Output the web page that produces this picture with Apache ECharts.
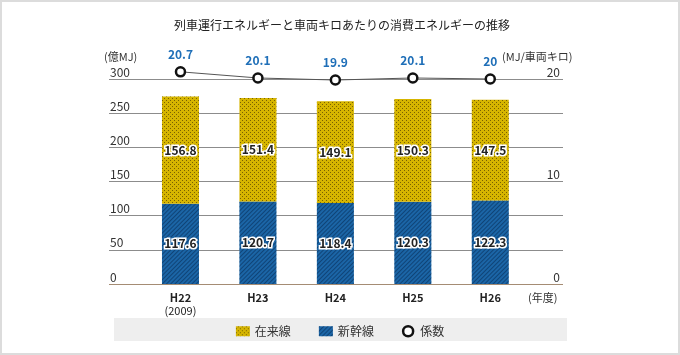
<!DOCTYPE html>
<html><head><meta charset="utf-8">
<script src="https://cdn.jsdelivr.net/npm/echarts@6/dist/echarts.min.js"></script>
<style>html,body{margin:0;padding:0;background:#fff}#c{width:680px;height:355px}</style>
</head><body><div id="c"></div>
<script>
const categories = ['H22', 'H23', 'H24', 'H25', 'H26'];
const categorySub = ['(2009)', '', '', '', ''];
const shinkansen = [117.6, 120.7, 118.4, 120.3, 122.3];
const zairaisen = [156.8, 151.4, 149.1, 150.3, 147.5];
const coefficient = [20.7, 20.1, 19.9, 20.1, 20];
const leftTicks = { min: 0, max: 300, interval: 50 };
const rightTicks = { min: 0, max: 20, interval: 10 };

const FONT = '"Noto Sans CJK JP","Noto Sans",sans-serif';
const chart = echarts.init(document.getElementById('c'));
const dotDecal = {
  symbol: 'rect', symbolSize: 1, color: 'rgba(90,70,0,0.75)',
  dashArrayX: [[1, 3], [0, 2, 1, 1]], dashArrayY: [1, 1]
};
const hatchDecal = {
  symbol: 'rect', symbolSize: 1, color: 'rgba(5,40,80,0.55)',
  dashArrayX: [[1, 0]], dashArrayY: [1, 2], rotation: -Math.PI / 4
};
const barLabel = {
  show: true, position: 'inside', fontFamily: FONT, fontSize: 12, fontWeight: 'bold',
  color: '#222', textBorderColor: '#fff', textBorderWidth: 3,
  formatter: p => p.value.toFixed(1)
};
chart.setOption({
  animation: false,
  textStyle: { fontFamily: FONT },
  title: {
    text: '列車運行エネルギーと車両キロあたりの消費エネルギーの推移',
    left: 337, top: 14, textAlign: 'center',
    textStyle: { fontFamily: FONT, fontSize: 12, fontWeight: 'normal', color: '#222' }
  },
  graphic: [
    { type: 'rect', shape: { x: 1, y: 1, width: 678, height: 353 }, style: { fill: 'none', stroke: '#dcdcdc', lineWidth: 2 }, z: 0 },
    { type: 'rect', shape: { x: 114, y: 318, width: 453, height: 23 }, style: { fill: '#eeeeee' }, z: 0 },
    { type: 'text', left: 104, top: 51, style: { text: '(億MJ)', fontFamily: FONT, fontSize: 11, fill: '#333' } },
    { type: 'text', left: 502, top: 51, style: { text: '(MJ/車両キロ)', fontFamily: FONT, fontSize: 11, fill: '#333' } },
    { type: 'text', left: 528, top: 292, style: { text: '(年度)', fontFamily: FONT, fontSize: 11, fill: '#333' } }
  ],
  legend: {
    top: 320, left: 'center', itemGap: 28, itemWidth: 14, itemHeight: 10,
    textStyle: { fontFamily: FONT, fontSize: 12, color: '#333' },
    data: [
      { name: '在来線', icon: 'rect' },
      { name: '新幹線', icon: 'rect' },
      { name: '係数', icon: 'circle', itemStyle: { color: '#fff', borderColor: '#111', borderWidth: 2.5 } }
    ]
  },
  grid: [
    { left: 109, right: 117, top: 79, bottom: 71 },
    { left: 141.75, right: 151, top: 79, bottom: 71 }
  ],
  xAxis: [
    { type: 'value', gridIndex: 0, show: false, min: 0, max: 1 },
    {
      type: 'category', gridIndex: 1, data: categories, boundaryGap: true,
      axisLine: { show: false }, axisTick: { show: false },
      axisLabel: {
        margin: 7, fontFamily: FONT, fontSize: 11, color: '#222', lineHeight: 13,
        formatter: (v, i) => categorySub[i] ? '{b|' + v + '}\n' + categorySub[i] : '{b|' + v + '}',
        rich: { b: { fontWeight: 'bold', fontSize: 11, fontFamily: FONT, color: '#222' } }
      }
    }
  ],
  yAxis: [
    {
      type: 'value', gridIndex: 0, position: 'left', min: leftTicks.min, max: leftTicks.max, interval: leftTicks.interval,
      axisLine: { show: false }, axisTick: { show: false },
      axisLabel: { inside: true, margin: 1, verticalAlign: 'bottom', fontFamily: FONT, fontSize: 12, color: '#333', padding: [0, 0, 1, 0] },
      splitLine: { lineStyle: { color: ['#a58c74', '#8c8c8c', '#8c8c8c', '#8c8c8c', '#8c8c8c', '#8c8c8c', '#8c8c8c'], width: 1.2 } }
    },
    {
      type: 'value', gridIndex: 0, position: 'right', min: rightTicks.min, max: rightTicks.max, interval: rightTicks.interval,
      axisLine: { show: false }, axisTick: { show: false }, splitLine: { show: false },
      axisLabel: { inside: true, margin: 3, verticalAlign: 'bottom', fontFamily: FONT, fontSize: 12, color: '#333', padding: [0, 0, 1, 0] }
    },
    { type: 'value', gridIndex: 1, min: leftTicks.min, max: leftTicks.max, show: false },
    { type: 'value', gridIndex: 1, min: rightTicks.min, max: rightTicks.max, show: false }
  ],
  series: [
    {
      name: '新幹線', type: 'bar', xAxisIndex: 1, yAxisIndex: 2, stack: 'e', barWidth: 37,
      data: shinkansen, itemStyle: { color: '#1b65a6', decal: hatchDecal }, label: barLabel
    },
    {
      name: '在来線', type: 'bar', xAxisIndex: 1, yAxisIndex: 2, stack: 'e', barWidth: 37,
      data: zairaisen, itemStyle: { color: '#d6b500', decal: dotDecal }, label: barLabel
    },
    {
      name: '係数', type: 'line', xAxisIndex: 1, yAxisIndex: 3, data: coefficient, clip: false,
      symbol: 'circle', symbolSize: 9, z: 5,
      lineStyle: { color: '#555', width: 1 },
      itemStyle: { color: '#fff', borderColor: '#111', borderWidth: 2.5 },
      label: { show: true, position: 'top', distance: 6, fontFamily: FONT, fontSize: 12, fontWeight: 'bold', color: '#1f6fb8' }
    }
  ]
});
</script></body></html>
